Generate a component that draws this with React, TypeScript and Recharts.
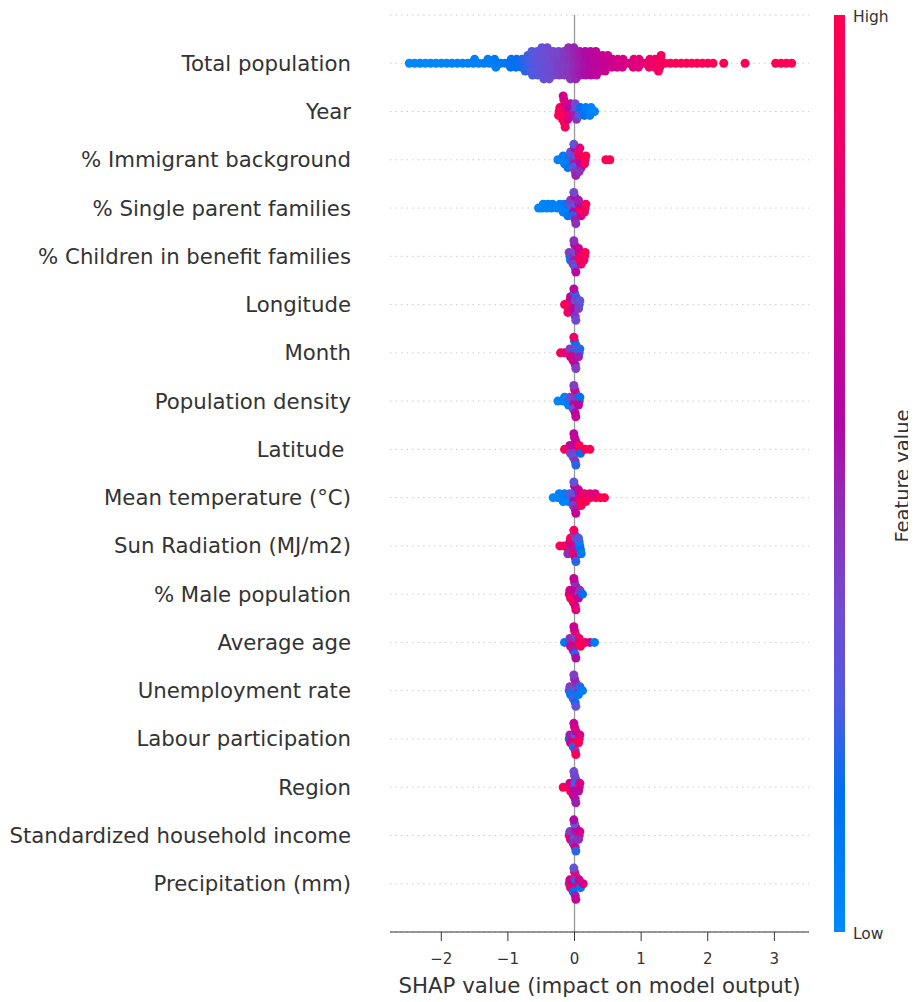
import React from 'react';
import { ScatterChart, Scatter, XAxis, YAxis, CartesianGrid } from 'recharts';

// feature names, top to bottom
const FEATURES = [
  'Total population',
  'Year',
  '% Immigrant background',
  '% Single parent families',
  '% Children in benefit families',
  'Longitude',
  'Month',
  'Population density',
  'Latitude\u00a0',
  'Mean temperature (°C)',
  'Sun Radiation (MJ/m2)',
  '% Male population',
  'Average age',
  'Unemployment rate',
  'Labour participation',
  'Region',
  'Standardized household income',
  'Precipitation (mm)',
];

const X_TICKS = [-2, -1, 0, 1, 2, 3];

// [shap value, feature value (0 = low, 1 = high)]
type Obs = [number, number];

const totalPopulation: Obs[] = [
  [-2.48, 0.02], [-2.4, 0.02], [-2.32, 0.03], [-2.24, 0.02], [-2.16, 0.03], [-2.08, 0.03], [-2.0, 0.04],
  [-1.92, 0.03], [-1.84, 0.04], [-1.76, 0.04], [-1.68, 0.05], [-1.6, 0.05], [-1.52, 0.05], [-1.5, 0.06],
  [-1.44, 0.06], [-1.36, 0.07], [-1.28, 0.06], [-1.3, 0.07],
  [-1.21, 0.08], [-1.2, 0.1], [-1.18, 0.07], [-1.11, 0.1], [-1.04, 0.11],
  [-0.97, 0.12], [-0.95, 0.13], [-0.96, 0.14],
  [-0.89, 0.15], [-0.87, 0.16], [-0.88, 0.14],
  [-0.81, 0.18], [-0.79, 0.19], [-0.8, 0.17],
  [-0.73, 0.2], [-0.71, 0.22], [-0.72, 0.21], [-0.7, 0.23], [-0.74, 0.2],
  [-0.65, 0.25], [-0.63, 0.26], [-0.64, 0.24], [-0.62, 0.27], [-0.66, 0.25], [-0.64, 0.26], [-0.63, 0.24],
  [-0.57, 0.28], [-0.55, 0.29], [-0.56, 0.27], [-0.54, 0.3], [-0.58, 0.28], [-0.56, 0.3], [-0.55, 0.27],
  [-0.49, 0.31], [-0.47, 0.32], [-0.48, 0.3], [-0.46, 0.33], [-0.5, 0.31], [-0.48, 0.33], [-0.47, 0.3], [-0.49, 0.32], [-0.46, 0.31],
  [-0.41, 0.33], [-0.39, 0.34], [-0.4, 0.35], [-0.38, 0.33], [-0.42, 0.34], [-0.4, 0.36], [-0.39, 0.33], [-0.41, 0.35], [-0.38, 0.34],
  [-0.33, 0.36], [-0.31, 0.37], [-0.32, 0.35], [-0.3, 0.38], [-0.34, 0.36], [-0.32, 0.37], [-0.31, 0.36],
  [-0.25, 0.38], [-0.23, 0.39], [-0.24, 0.4], [-0.22, 0.38], [-0.26, 0.39], [-0.24, 0.38], [-0.23, 0.4],
  [-0.17, 0.41], [-0.15, 0.42], [-0.16, 0.4], [-0.14, 0.43], [-0.18, 0.41], [-0.16, 0.42], [-0.15, 0.41],
  [-0.09, 0.44], [-0.07, 0.45], [-0.08, 0.43], [-0.06, 0.46], [-0.1, 0.44], [-0.08, 0.45], [-0.07, 0.44], [-0.09, 0.46], [-0.06, 0.45],
  [-0.01, 0.47], [0.01, 0.48], [0, 0.46], [0.02, 0.49], [-0.02, 0.47], [0, 0.48], [0.01, 0.47], [-0.01, 0.49], [0.02, 0.48],
  [0.07, 0.5], [0.09, 0.51], [0.08, 0.5], [0.1, 0.52], [0.06, 0.5], [0.08, 0.52], [0.09, 0.51],
  [0.15, 0.53], [0.17, 0.54], [0.16, 0.53], [0.18, 0.55], [0.14, 0.53], [0.16, 0.55], [0.17, 0.54],
  [0.23, 0.56], [0.25, 0.57], [0.24, 0.56], [0.26, 0.58], [0.22, 0.57], [0.24, 0.58], [0.25, 0.56],
  [0.31, 0.59], [0.33, 0.6], [0.32, 0.59], [0.34, 0.61], [0.3, 0.6], [0.32, 0.61], [0.33, 0.6],
  [0.39, 0.62], [0.41, 0.63], [0.4, 0.62], [0.42, 0.64], [0.38, 0.63],
  [0.47, 0.65], [0.49, 0.66], [0.48, 0.65], [0.5, 0.67], [0.46, 0.66],
  [0.55, 0.68], [0.57, 0.69], [0.56, 0.68],
  [0.63, 0.7], [0.65, 0.71], [0.64, 0.7],
  [0.71, 0.72], [0.73, 0.73], [0.72, 0.72],
  [0.8, 0.74],
  [0.87, 0.76], [0.89, 0.77], [0.88, 0.76],
  [0.95, 0.78], [0.97, 0.79], [0.96, 0.78],
  [1.04, 0.81],
  [1.11, 0.84], [1.13, 0.85], [1.12, 0.84],
  [1.19, 0.87], [1.21, 0.88], [1.2, 0.87],
  [1.27, 0.9], [1.29, 0.91], [1.28, 0.9], [1.3, 0.92], [1.26, 0.91],
  [1.36, 0.93], [1.44, 0.95], [1.52, 0.96], [1.6, 0.97], [1.68, 0.97], [1.76, 0.98], [1.84, 0.98],
  [1.92, 0.99], [2.0, 0.99], [2.08, 1], [2.24, 1], [2.56, 1],
  [3.02, 1], [3.1, 1], [3.18, 1], [3.26, 1],
];

const year: Obs[] = [
  [-0.23, 0.95], [-0.22, 0.9], [-0.24, 1],
  [-0.17, 0.95], [-0.15, 0.85], [-0.16, 1], [-0.14, 0.75], [-0.18, 0.9], [-0.16, 0.8], [-0.15, 1], [-0.17, 0.7], [-0.14, 0.92],
  [-0.09, 0.7], [-0.07, 0.55], [-0.08, 0.85], [-0.06, 0.6], [-0.1, 0.75],
  [0, 0.4], [0.02, 0.3], [-0.01, 0.5], [0.01, 0.35], [0.03, 0.45],
  [0.08, 0.2], [0.09, 0.15], [0.07, 0.25],
  [0.16, 0.1], [0.17, 0.08], [0.15, 0.12],
  [0.24, 0.05], [0.25, 0.04], [0.23, 0.06],
  [0.3, 0.03],
];

const immigrant: Obs[] = [
  [-0.25, 0.03],
  [-0.16, 0.05], [-0.17, 0.08], [-0.15, 0.04],
  [-0.08, 0.1], [-0.07, 0.2], [-0.09, 0.06], [-0.06, 0.3], [-0.1, 0.12],
  [0, 0.45], [0.01, 0.35], [-0.01, 0.5], [0.02, 0.4], [-0.02, 0.25], [0, 0.55], [0.01, 0.42], [-0.01, 0.3], [0.02, 0.5],
  [0.08, 0.7], [0.07, 0.9], [0.09, 0.55], [0.06, 0.95], [0.1, 0.6], [0.08, 0.8], [0.07, 0.45],
  [0.16, 0.95], [0.17, 1], [0.15, 0.9],
  [0.47, 1], [0.53, 1],
];

const singleParent: Obs[] = [
  [-0.54, 0.02], [-0.49, 0.03], [-0.47, 0.02], [-0.42, 0.03], [-0.4, 0.04], [-0.35, 0.03], [-0.33, 0.05],
  [-0.26, 0.04], [-0.22, 0.05],
  [-0.16, 0.06], [-0.15, 0.1], [-0.17, 0.05],
  [-0.08, 0.15], [-0.07, 0.3], [-0.09, 0.08], [-0.06, 0.4], [-0.1, 0.12],
  [0, 0.45], [0.01, 0.3], [-0.01, 0.55], [0.02, 0.4], [-0.02, 0.2], [0, 0.6], [0.01, 0.5], [-0.01, 0.35], [0.02, 0.45],
  [0.08, 0.85], [0.07, 0.6], [0.09, 0.95], [0.06, 0.5], [0.1, 0.7],
  [0.16, 0.95], [0.17, 1], [0.15, 0.9],
];

const childrenBenefit: Obs[] = [
  [-0.07, 0.1], [-0.08, 0.4], [-0.06, 0.2],
  [0, 0.45], [0.01, 0.35], [-0.01, 0.5], [0.02, 0.3], [-0.02, 0.4], [0, 0.55], [0.01, 0.25], [-0.01, 0.45], [0.02, 0.6],
  [0.08, 0.9], [0.07, 0.8], [0.09, 0.95], [0.06, 0.7], [0.1, 0.85],
  [0.15, 0.95], [0.16, 1], [0.14, 0.9],
];

const longitude: Obs[] = [
  [-0.15, 0.95],
  [-0.08, 0.95], [-0.07, 0.85], [-0.09, 1], [-0.06, 0.6], [-0.1, 0.9],
  [0, 0.5], [0.01, 0.3], [-0.01, 0.65], [0.02, 0.4], [-0.02, 0.55], [0, 0.2], [0.01, 0.45], [-0.01, 0.6], [0.02, 0.35],
  [0.07, 0.15], [0.08, 0.3], [0.06, 0.4],
];

const month: Obs[] = [
  [-0.21, 0.95], [-0.15, 0.8],
  [-0.08, 0.9], [-0.07, 0.4], [-0.06, 0.7],
  [0, 0.5], [0.01, 0.2], [-0.01, 0.75], [0.02, 0.35], [-0.02, 0.65], [0, 0.15], [0.01, 0.6], [-0.01, 0.85], [0.02, 0.4],
  [0.07, 0.1], [0.08, 0.2], [0.06, 0.5],
];

const popDensity: Obs[] = [
  [-0.25, 0.03],
  [-0.17, 0.05], [-0.15, 0.06],
  [-0.08, 0.1], [-0.07, 0.35], [-0.09, 0.08],
  [0, 0.5], [0.01, 0.4], [-0.01, 0.6], [0.02, 0.45], [-0.02, 0.35], [0, 0.7], [0.01, 0.55], [-0.01, 0.4], [0.02, 0.65],
  [0.07, 0.9], [0.08, 0.15], [0.06, 0.6],
];

const latitude: Obs[] = [
  [-0.15, 0.95],
  [-0.08, 0.9], [-0.07, 0.65], [-0.06, 0.4],
  [0, 0.5], [0.01, 0.65], [-0.01, 0.4], [0.02, 0.55], [-0.02, 0.3], [0, 0.7], [0.01, 0.45], [-0.01, 0.6], [0.02, 0.2],
  [0.08, 0.95], [0.07, 1], [0.09, 0.15],
  [0.16, 0.95], [0.23, 1],
];

const meanTemp: Obs[] = [
  [-0.32, 0.02],
  [-0.25, 0.03], [-0.23, 0.04],
  [-0.16, 0.05], [-0.15, 0.08], [-0.17, 0.04],
  [-0.08, 0.1], [-0.07, 0.3], [-0.09, 0.06],
  [0, 0.45], [0.01, 0.35], [-0.01, 0.55], [0.02, 0.2], [-0.02, 0.4], [0, 0.6], [0.01, 0.5], [-0.01, 0.3], [0.02, 0.65],
  [0.08, 0.9], [0.07, 0.75], [0.09, 0.95], [0.06, 0.65], [0.1, 1],
  [0.16, 0.95], [0.15, 0.85], [0.17, 1],
  [0.24, 0.95], [0.23, 0.8],
  [0.32, 1], [0.31, 0.75],
  [0.39, 1], [0.45, 1],
];

const sunRadiation: Obs[] = [
  [-0.22, 0.95], [-0.16, 0.9],
  [-0.08, 0.95], [-0.07, 0.7], [-0.09, 0.8], [-0.06, 1], [-0.1, 0.45],
  [0, 0.6], [0.01, 0.75], [-0.01, 0.5], [0.02, 0.3], [-0.02, 0.85], [0, 0.4], [0.01, 0.65], [-0.01, 0.9], [0.02, 0.2],
  [0.08, 0.1], [0.07, 0.05], [0.09, 0.15], [0.06, 0.25], [0.1, 0.08],
];

const malePopulation: Obs[] = [
  [-0.08, 0.95], [-0.07, 0.7], [-0.06, 0.9],
  [0, 0.7], [0.01, 0.55], [-0.01, 0.85], [0.02, 0.6], [-0.02, 0.95], [0, 0.45], [0.01, 0.75], [-0.01, 0.65], [0.02, 0.8],
  [0.07, 0.3], [0.08, 0.45], [0.06, 0.6],
  [0.12, 0.15],
];

const averageAge: Obs[] = [
  [-0.15, 0.1],
  [-0.08, 0.15], [-0.07, 0.45], [-0.06, 0.7],
  [0, 0.6], [0.01, 0.4], [-0.01, 0.75], [0.02, 0.3], [-0.02, 0.5], [0, 0.85], [0.01, 0.2], [-0.01, 0.65], [0.02, 0.55],
  [0.08, 0.95], [0.07, 0.85], [0.09, 1],
  [0.16, 0.95], [0.23, 0.7], [0.3, 0.1],
];

const unemployment: Obs[] = [
  [-0.08, 0.2], [-0.07, 0.4], [-0.06, 0.1],
  [0, 0.2], [0.01, 0.35], [-0.01, 0.1], [0.02, 0.45], [-0.02, 0.25], [0, 0.5], [0.01, 0.15], [-0.01, 0.4], [0.02, 0.3],
  [0.07, 0.95], [0.08, 0.2], [0.06, 0.1],
  [0.12, 0.08],
];

const labourParticipation: Obs[] = [
  [-0.08, 0.15], [-0.07, 0.5], [-0.06, 0.7],
  [0, 0.7], [0.01, 0.3], [-0.01, 0.9], [0.02, 0.55], [-0.02, 0.2], [0, 0.8], [0.01, 0.45], [-0.01, 0.65], [0.02, 0.95],
  [0.07, 0.95], [0.08, 0.75], [0.06, 1],
];

const region: Obs[] = [
  [-0.17, 0.95],
  [-0.08, 0.9], [-0.07, 0.7], [-0.06, 1],
  [0, 0.45], [0.01, 0.3], [-0.01, 0.55], [0.02, 0.2], [-0.02, 0.65], [0, 0.4], [0.01, 0.6], [-0.01, 0.35], [0.02, 0.5],
  [0.07, 0.95], [0.08, 0.75], [0.06, 0.6],
];

const householdIncome: Obs[] = [
  [-0.08, 0.95], [-0.07, 0.4], [-0.06, 0.7],
  [0, 0.4], [0.01, 0.5], [-0.01, 0.35], [0.02, 0.6], [-0.02, 0.45], [0, 0.3], [0.01, 0.7], [-0.01, 0.55], [0.02, 0.2],
  [0.07, 0.95], [0.08, 0.7], [0.06, 0.45],
];

const precipitation: Obs[] = [
  [-0.08, 0.45], [-0.07, 0.7], [-0.06, 0.95],
  [0, 0.6], [0.01, 0.2], [-0.01, 0.75], [0.02, 0.4], [-0.02, 0.15], [0, 0.85], [0.01, 0.5], [-0.01, 0.3], [0.02, 0.65],
  [0.08, 0.9], [0.07, 0.7], [0.09, 0.1],
  [0.13, 0.75],
];

const ROWS: Obs[][] = [
  totalPopulation, year, immigrant, singleParent, childrenBenefit, longitude, month, popDensity,
  latitude, meanTemp, sunRadiation, malePopulation, averageAge, unemployment, labourParticipation,
  region, householdIncome, precipitation,
];

// shap-like red/blue colormap
const CMAP: [number, number[]][] = [
  [0, [0, 138, 251]],
  [0.15, [0, 112, 240]],
  [0.25, [80, 90, 225]],
  [0.35, [112, 75, 210]],
  [0.45, [140, 50, 185]],
  [0.55, [175, 10, 165]],
  [0.7, [208, 0, 140]],
  [0.85, [238, 0, 105]],
  [1, [255, 0, 82]],
];

const colorAt = (v: number) => {
  for (let i = 1; i < CMAP.length; i++) {
    const [t1, c1] = CMAP[i];
    const [t0, c0] = CMAP[i - 1];
    if (v <= t1) {
      const f = (v - t0) / (t1 - t0);
      const c = c0.map((a, k) => Math.round(a + (c1[k] - a) * f));
      return `rgb(${c[0]},${c[1]},${c[2]})`;
    }
  }
  return 'rgb(255,0,82)';
};

const BIN = 0.08;
const ROW_H = 0.45;
const N = FEATURES.length;

// beeswarm stacking, same idea as shap's summary plot
const swarm = (obs: Obs[], row: number) => {
  const layers = new Map<number, number>();
  let maxOff = 0;
  const pts = obs.map(([shap, fv]) => {
    const b = Math.round(shap / BIN);
    const layer = layers.get(b) ?? 0;
    layers.set(b, layer + 1);
    const off = Math.ceil(layer / 2) * (layer % 2 === 1 ? 1 : -1);
    maxOff = Math.max(maxOff, off);
    return { shap, fv, off };
  });
  const scale = (0.9 * ROW_H) / (maxOff + 1);
  return pts.map((p) => ({ x: p.shap, y: N - 1 - row + p.off * scale, color: colorAt(p.fv) }));
};

const points = ROWS.flatMap((obs, i) => swarm(obs, i));

const TEXT = '#333333';
const FONT = '"DejaVu Sans", sans-serif';

const Dot = (props: any) => {
  const { cx, cy, payload } = props;
  return <circle cx={cx} cy={cy} r={4.5} fill={payload.color} />;
};

const gradient = `linear-gradient(to top, ${CMAP.map(([t, c]) => `rgb(${c.join(',')}) ${t * 100}%`).join(', ')})`;

export default function App() {
  return (
    <div style={{ position: 'relative', width: 900, height: 990, fontFamily: FONT }}>
      <ScatterChart width={900} height={990} margin={{ top: 7, right: 99, bottom: 0, left: 0 }}>
        <CartesianGrid horizontal vertical={false} stroke="#cccccc" strokeDasharray="1.5 4" />
        <CartesianGrid horizontal={false} verticalValues={[0]} stroke="#999999" strokeWidth={1.3} />
        <XAxis
          type="number"
          dataKey="x"
          domain={[-2.77, 3.52]}
          allowDataOverflow
          ticks={X_TICKS}
          tickFormatter={(v: number) => (v < 0 ? `\u2212${-v}` : `${v}`)}
          height={66}
          tickSize={9}
          tickMargin={12}
          stroke={TEXT}
          tick={{ fill: TEXT, fontSize: 15, fontFamily: FONT }}
          label={{
            value: 'SHAP value (impact on model output)',
            position: 'insideBottom',
            offset: 5,
            fill: TEXT,
            fontSize: 21.3,
            fontFamily: FONT,
          }}
        />
        <YAxis
          type="number"
          dataKey="y"
          domain={[-1, N]}
          allowDataOverflow
          ticks={FEATURES.map((_, i) => i)}
          interval={0}
          tickFormatter={(v: number) => FEATURES[N - 1 - v]}
          width={382}
          axisLine={false}
          tickLine={false}
          tickSize={0}
          tickMargin={39}
          tick={{ fill: TEXT, fontSize: 21.25, fontFamily: FONT }}
        />
        <Scatter data={points} shape={Dot} isAnimationActive={false} />
      </ScatterChart>
      <div style={{ position: 'absolute', left: 826, top: 7, width: 11, height: 917, background: gradient }} />
      <div style={{ position: 'absolute', left: 845, top: -1, height: 20, lineHeight: '20px', fontSize: 15.5, color: TEXT }}>High</div>
      <div style={{ position: 'absolute', left: 845, top: 916, height: 20, lineHeight: '20px', fontSize: 15.5, color: TEXT }}>Low</div>
      <div
        style={{
          position: 'absolute',
          left: 894,
          top: 468,
          transform: 'translate(-50%, -50%) rotate(-90deg)',
          whiteSpace: 'nowrap',
          fontSize: 19.5,
          color: TEXT,
        }}
      >
        Feature value
      </div>
    </div>
  );
}
